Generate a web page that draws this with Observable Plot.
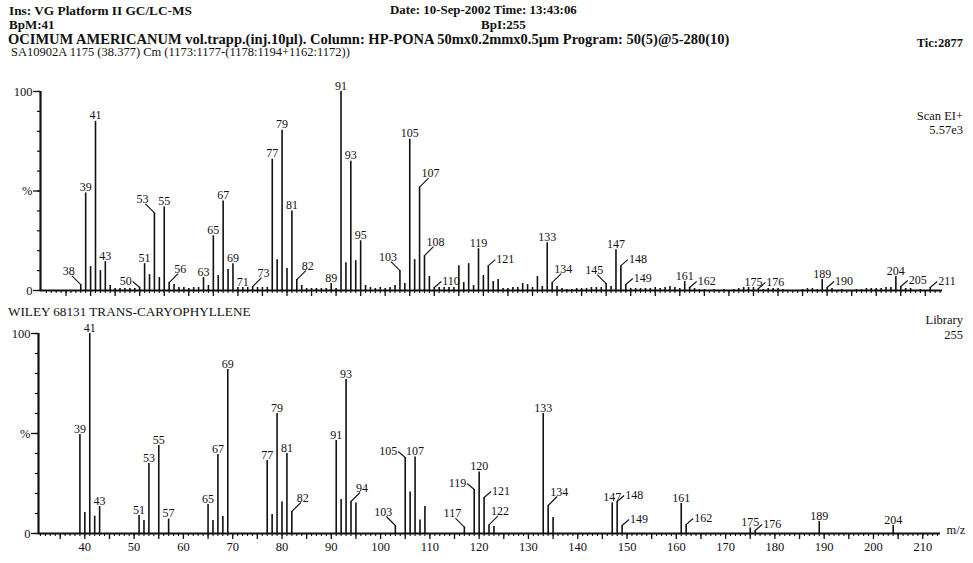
<!DOCTYPE html>
<html><head><meta charset="utf-8">
<script src="https://cdn.jsdelivr.net/npm/d3@7"></script>
<script src="https://cdn.jsdelivr.net/npm/@observablehq/plot@0.6"></script>
<style>
body{margin:0;background:#fff;}
#wrap{position:relative;width:973px;height:563px;overflow:hidden;font-family:"Liberation Serif","Times New Roman",serif;color:#111;}
.t{position:absolute;white-space:nowrap;line-height:1;font-size:12.5px;}
.b{font-weight:bold;}
#wrap svg{position:absolute;left:0;}
</style></head><body><div id="wrap"></div>
<script>
// ---- data: sample spectrum (m/z, relative intensity %) ----
const samplePeaks = [[38,3],[39,49],[40,12],[41,85],[42,10],[43,14.5],[44,2.5],[45,1],[46,1],[47,1],[48,1],[49,1],[50,1.5],[51,13.5],[52,8],[53,39],[54,6.5],[55,42],[56,4],[57,3],[58,1.5],[59,1.5],[60,1],[61,1.5],[62,1.5],[63,6.5],[64,2.5],[65,27.5],[66,7.5],[67,45],[68,10.5],[69,13.5],[70,1.5],[71,1.5],[72,1.5],[73,2],[74,1.5],[75,1.5],[76,1.5],[77,66],[78,15.5],[79,80.5],[80,11],[81,40],[82,5.5],[83,2.5],[84,1],[85,1],[86,1],[87,1],[88,1],[89,3.5],[90,1],[91,100],[92,14],[93,65],[94,15],[95,25],[96,2.5],[97,1.5],[98,1],[99,1.5],[100,1],[101,1.5],[102,2.5],[103,10],[104,3.5],[105,76],[106,15.5],[107,52],[108,17.5],[109,7],[110,1.5],[111,1.5],[112,1.5],[113,1.5],[114,1.5],[115,12.5],[116,4],[117,13.5],[118,2.5],[119,21],[120,7.5],[121,12.5],[122,4.5],[123,5.5],[124,1],[125,1],[126,1.5],[127,1.5],[128,3.5],[129,3],[130,1.5],[131,7],[132,2],[133,24],[134,4],[135,2],[136,1],[137,0.5],[138,0.5],[139,1],[140,1],[141,1],[142,1.5],[143,1.5],[144,1.5],[145,3.5],[146,2],[147,20.5],[148,12.5],[149,3],[150,1],[151,1],[152,1],[153,1],[154,1],[155,1.5],[156,1],[157,1.5],[158,2],[159,1.5],[160,1],[161,4.5],[162,1.5],[163,1],[164,0.5],[165,0.5],[167,0.5],[169,0.5],[171,0.5],[172,1],[173,1.5],[174,1.5],[175,1.5],[176,1],[177,0.5],[178,1],[179,1],[180,1],[181,0.5],[185,0.5],[186,1],[187,1],[188,0.5],[189,5.5],[190,1.5],[191,1],[193,0.5],[196,0.5],[197,0.5],[198,1],[199,1],[200,1],[201,1],[202,1.5],[203,1.5],[204,7],[205,2],[206,1],[207,1],[209,0.5],[211,1.5]];
const sampleLabelsAbove = [39,41,43,51,55,63,65,67,69,71,77,79,81,89,91,93,95,105,119,133,147,161,175,189,204];
const sampleLabelsLeader = [[38,"ul"],[50,"sl"],[53,"ul"],[56,"ur"],[73,"ur"],[82,"ur"],[103,"ul"],[107,"ur"],[108,"ur"],[110,"sr"],[121,"sr"],[134,"ur"],[145,"ul"],[148,"sr"],[149,"sr"],[162,"sr"],[176,"sr"],[190,"sr"],[205,"sr"],[211,"sr"]];

// ---- data: library spectrum (WILEY 68131 trans-caryophyllene) ----
const libraryPeaks = [[39,49.5],[40,10.5],[41,100],[42,8.7],[43,13.5],[51,9],[52,6.5],[53,35],[55,44],[57,7.2],[65,14.5],[66,6.5],[67,39.5],[68,8.5],[69,82],[77,36.5],[78,9.5],[79,60],[80,15.7],[81,40],[82,11],[91,46.5],[92,17],[93,77],[94,16],[95,15.3],[103,4],[105,38],[106,20.7],[107,38.2],[108,6.8],[109,13.5],[117,3.2],[119,22],[120,30.7],[121,18],[122,4.3],[123,3.5],[133,60],[134,14],[135,8],[147,15.3],[148,16],[149,4],[161,15],[162,4.5],[175,2.8],[176,1.5],[189,6],[204,4]];
const libraryLabelsAbove = [39,41,43,51,53,55,57,65,67,69,77,79,81,91,93,107,120,133,147,161,175,189,204];
const libraryLabelsLeader = [[82,"ur"],[94,"ur"],[103,"ul"],[105,"sl"],[117,"ul"],[119,"sl"],[121,"sr"],[122,"ur"],[134,"ur"],[148,"sr"],[149,"sr"],[162,"sr"],[176,"sr"]];

const xTickLabels = d3.range(40, 211, 10);
const yTickLabels = [[0,"0"],[50,"%"],[100,"100"]];

const W = 973;
function panel(cfg) {
  const {peaks, above, leaders, x0, x1, ml, mr, mt, mb, h, withLabels} = cfg;
  const kx = (W - ml - mr) / (x1 - x0), ky = (h - mt - mb) / 100;
  const data = peaks.map(([m, v]) => ({m, v}));
  const byMz = new Map(data.map(d => [d.m, d]));
  const aboveRows = above.map(m => byMz.get(m));
  const lead = leaders.map(([m, k]) => {
    const d = byMz.get(m), s = k[1] === "r" ? 1 : -1, up = k[0] === "u";
    const lx = up ? 9 : 7, ly = up ? 9 : 6;
    return {m, v: d.v, s, up, x2: m + s * lx / kx, y2: d.v + ly / ky};
  });
  const txt = {text: d => String(d.m), fontSize: 12, fill: "#111"};
  const marks = [
    Plot.ruleX(data, {x: "m", y1: 0, y2: "v", strokeWidth: 1.6, stroke: "#111"}),
    Plot.axisX(d3.range(31, 214), {tickSize: 3, tickFormat: () => "", strokeWidth: 1.1, label: null}),
    Plot.axisX(d3.range(35, 214, 5), {tickSize: 6, tickFormat: () => "", strokeWidth: 1.3, label: null}),
    Plot.axisY(d3.range(0, 101, 10), {tickSize: 3, tickFormat: () => "", strokeWidth: 1.2, label: null}),
    Plot.axisY(yTickLabels.map(d => d[0]), {tickSize: 7, tickPadding: 1, strokeWidth: 1.3, fontSize: 12.5, label: null,
      tickFormat: v => yTickLabels.find(d => d[0] === v)[1]}),
    Plot.ruleY([0], {strokeWidth: 2.2, stroke: "#111"}),
    Plot.ruleX([x0], {strokeWidth: 2.2, stroke: "#111"}),
    Plot.text(aboveRows, {x: "m", y: "v", ...txt, lineAnchor: "bottom", dy: -2}),
    Plot.link(lead, {x1: "m", y1: "v", x2: "x2", y2: "y2", stroke: "#111", strokeWidth: 1.1}),
    Plot.text(lead.filter(d => d.up && d.s > 0), {x: "x2", y: "y2", ...txt, lineAnchor: "bottom", dx: 2, dy: -1}),
    Plot.text(lead.filter(d => d.up && d.s < 0), {x: "x2", y: "y2", ...txt, lineAnchor: "bottom", dx: -3, dy: -1}),
    Plot.text(lead.filter(d => !d.up && d.s > 0), {x: "x2", y: "y2", ...txt, textAnchor: "start", dx: 1}),
    Plot.text(lead.filter(d => !d.up && d.s < 0), {x: "x2", y: "y2", ...txt, textAnchor: "end", dx: -1})
  ];
  if (withLabels) {
    marks.push(Plot.axisX(xTickLabels, {tickSize: 0, tickPadding: 9, fontSize: 12.5, label: null}));
    marks.push(Plot.text(["m/z"], {frameAnchor: "bottom-right", textAnchor: "start", dx: 6, fontSize: 12.5}));
  }
  return Plot.plot({
    width: W, height: h, marginLeft: ml, marginRight: mr, marginTop: mt, marginBottom: mb,
    x: {domain: [x0, x1], label: null}, y: {domain: [0, 100], label: null},
    style: {fontFamily: '"Liberation Serif","Times New Roman",serif', fontSize: "12px", background: "transparent", overflow: "visible", color: "#111"},
    marks
  });
}

const wrap = document.getElementById("wrap");
const top1 = panel({peaks: samplePeaks, above: sampleLabelsAbove, leaders: sampleLabelsLeader,
  x0: 29.8, x1: 213.5, ml: 40, mr: 31, mt: 31, mb: 10, h: 240, withLabels: false});
top1.style.top = "60px";
wrap.appendChild(top1);
const bot = panel({peaks: libraryPeaks, above: libraryLabelsAbove, leaders: libraryLabelsLeader,
  x0: 30.6, x1: 213.6, ml: 38, mr: 33, mt: 33, mb: 30, h: 263, withLabels: true});
bot.style.top = "300px";
wrap.appendChild(bot);

const texts = [
  ["Ins: VG Platform II GC/LC-MS", 9, 4, "b", 13.3],
  ["Date: 10-Sep-2002 Time: 13:43:06", 390, 4, "b", 12.9],
  ["BpM:41", 9, 18, "b", 13],
  ["BpI:255", 481, 18, "b", 13],
  ["OCIMUM AMERICANUM vol.trapp.(inj.10µl). Column: HP-PONA 50mx0.2mmx0.5µm Program: 50(5)@5-280(10)", 8, 31.5, "b", 14.5],
  ["SA10902A 1175 (38.377) Cm (1173:1177-(1178:1194+1162:1172))", 11, 46, "", 12.5],
  ["WILEY 68131 TRANS-CARYOPHYLLENE", 8, 304.5, "", 13.2]
];
const rtexts = [
  ["Tic:2877", 37, "b"], ["Scan EI+", 110, ""], ["5.57e3", 124, ""], ["Library", 314, ""], ["255", 329, ""]
];
for (const [s, x, y, c, fs] of texts) {
  const d = document.createElement("div");
  d.className = "t " + c; d.textContent = s;
  d.style.left = x + "px"; d.style.top = y + "px"; d.style.fontSize = fs + "px";
  wrap.appendChild(d);
}
for (const [s, y, c] of rtexts) {
  const d = document.createElement("div");
  d.className = "t " + c; d.textContent = s;
  d.style.right = "10px"; d.style.top = y + "px";
  wrap.appendChild(d);
}
</script></body></html>
